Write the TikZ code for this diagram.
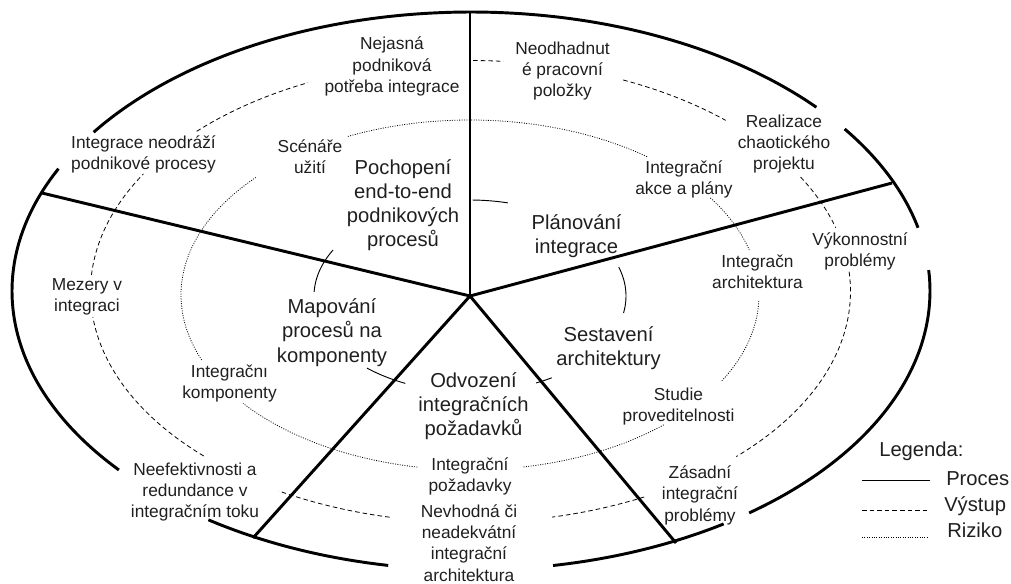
\documentclass[tikz,border=0pt]{standalone}
\usepackage{fontspec}
\setmainfont{Liberation Sans}
\newcommand{\labelfont}{\fontsize{13}{15.9}\selectfont}
\newcommand{\stagefont}{\fontsize{15.15}{18.15}\selectfont}
\begin{document}
\begin{tikzpicture}[x=0.75pt, y=-0.75pt,
  bold/.style={line width=2.2pt, line cap=butt},
  process/.style={line width=0.7pt},
  output/.style={line width=0.6pt, dash pattern=on 3.4pt off 2.3pt},
  risk/.style={line width=0.6pt, dash pattern=on 0.7pt off 1.1pt},
  lbl/.style={font=\labelfont, align=center, anchor=north, inner sep=0pt, text=black!88},
  stage/.style={font=\stagefont, align=center, anchor=north, inner sep=0pt, text=black!88},
  leg/.style={font=\stagefont, anchor=base west, inner sep=0pt, text=black!88}]
\useasboundingbox (0,0) rectangle (1011,583);

% outer ring, broken where the risk labels sit on it
\foreach \a/\b in {-4.3/52.7, 56.6/79.7, 100.4/124.9, 140.1/206.0, 214.7/318.8, 324.5/346.9}
  \draw[bold] plot[domain=\a:\b, samples=50, smooth] ({471+459*cos(\x)},{291+279*sin(\x)});

% output ring (dashed)
\foreach \a/\b in {184.1/210.6, 223.9/244.7, 270.4/275, 293.7/312.2, 330.3/344.0, 355.1/405.6, 62.8/77.6, 102.3/120.3, 134.6/173.6}
  \draw[output] plot[domain=\a:\b, samples=50, smooth] ({470.5+380*cos(\x)},{291.5+231*sin(\x)});

% risk ring (dotted)
\foreach \a/\b in {245.0/307.8, 326.3/345.1, 362/389.7, 47.9/79.5, 100.5/141.7, 158.2/222.2}
  \draw[risk] plot[domain=\a:\b, samples=50, smooth] ({470+289*cos(\x)},{295+175*sin(\x)});

% process ring (thin solid), visible between the stage labels
\foreach \a/\b in {271/284, 182.5/208.6, 342.4/370.2, 58.4/64.9, 114.5/131.3}
  \draw[process] plot[domain=\a:\b, samples=30, smooth] ({470+156*cos(\x)},{296+96*sin(\x)});

% spokes dividing the five stages
\coordinate (hub) at (470,296);
\coordinate (sN) at (470,12);
\coordinate (sE) at (892,183);
\coordinate (sSE) at (676,543);
\coordinate (sSW) at (253,538);
\coordinate (sW) at (42,193);
\draw[bold, line join=miter] (hub) -- (sN);
\draw[bold] (hub) -- (sE);
\draw[bold] (hub) -- (sSE);
\draw[bold] (hub) -- (sSW);
\draw[bold] (hub) -- (sW);

% stages
\node[stage] (pochop) at (403,157.1) {\strut Pochopení\\end-to-end\\podnikových\\procesů};
\node[stage] (planov) at (576.5,212.4) {\strut Plánování\\integrace};
\node[stage] (mapov) at (332,296.4) {\strut Mapování\\procesů na\\komponenty};
\node[stage] (sestav) at (608.5,324.1) {\strut Sestavení\\architektury};
\node[stage] (odvoz) at (473.5,369.8) {\strut Odvození\\integračních\\požadavků};

% outputs and risks
\node[lbl] (nejasna) at (392,34.7) {\strut Nejasná\\podniková\\potřeba integrace};
\node[lbl] (neodhad) at (562.5,39.2) {\strut Neodhadnut\\é pracovní\\položky};
\node[lbl] (neodrazi) at (143.5,132.9) {\strut Integrace neodráží\\podnikové procesy};
\node[lbl] (scenare) at (310,136.9) {\strut Scénáře\\užití};
\node[lbl] (realiz) at (784,111.9) {\strut Realizace\\chaotického\\projektu};
\node[lbl] (akce) at (684,157.9) {\strut Integrační\\akce a plány};
\node[lbl] (vykon) at (860,230.2) {\strut Výkonnostní\\problémy};
\node[lbl] (archi) at (757.5,252.5) {\strut Integračn\\architektura};
\node[lbl] (mezery) at (87,275.2) {\strut Mezery v\\integraci};
\node[lbl] (komp) at (229.5,361.9) {\strut Integračnı\\komponenty};
\node[lbl] (studie) at (678.5,385.2) {\strut Studie\\proveditelnosti};
\node[lbl] (pozad) at (470,455.2) {\strut Integrační\\požadavky};
\node[lbl] (neefekt) at (195,460.2) {\strut Neefektivnosti a\\redundance v\\integračním toku};
\node[lbl] (nevhod) at (469,502.3) {\strut Nevhodná či\\neadekvátní\\integrační\\architektura};
\node[lbl] (zasadni) at (700,463.5) {\strut Zásadní\\integrační\\problémy};

% legend
\node[leg] (legenda) at (879,456.7) {Legenda:};
\node[leg] (lproc) at (946,485) {Proces};
\node[leg] (lvyst) at (944,511.7) {Výstup};
\node[leg] (lriz) at (947,537) {Riziko};
\coordinate (procA) at (862,480.7);
\coordinate (procB) at (930,480.7);
\coordinate (vystA) at (862,510);
\coordinate (vystB) at (930,510);
\coordinate (rizA) at (862,537);
\coordinate (rizB) at (928,537);
\draw[process] (procA) -- (procB);
\draw[output] (vystA) -- (vystB);
\draw[risk] (rizA) -- (rizB);
\end{tikzpicture}
\end{document}
